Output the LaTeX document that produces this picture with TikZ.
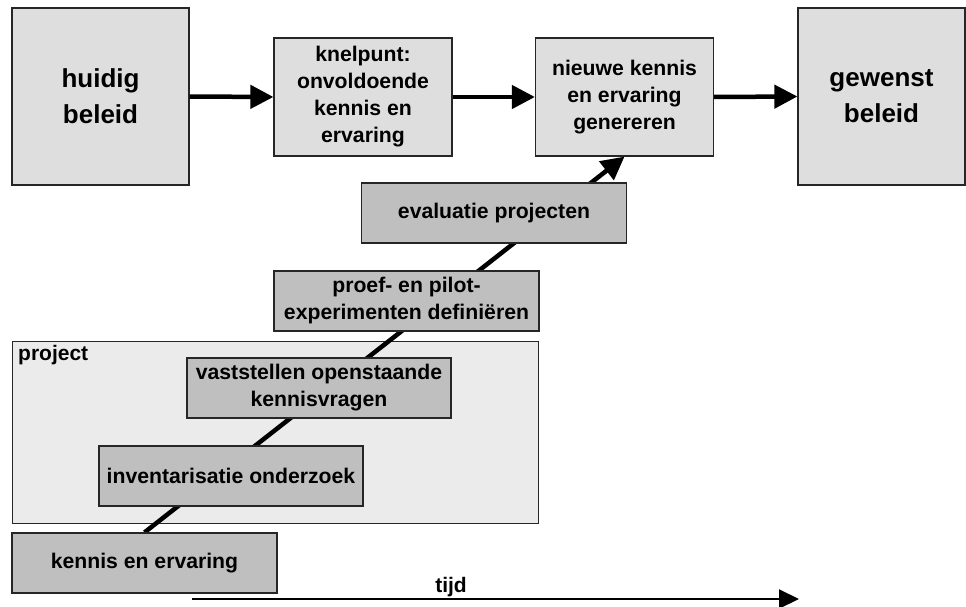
\documentclass[tikz,border=0pt]{standalone}
\usepackage{fontspec}
\setmainfont{Liberation Sans}
\usetikzlibrary{arrows.meta,backgrounds}

\begin{document}
\begin{tikzpicture}[x=1pt, y=-1pt,
    box/.style={draw=black!85, line width=1.2pt, inner sep=0pt, align=center},
    bigbox/.style={box, fill=black!13, minimum width=177pt, minimum height=177pt,
        font=\fontsize{26}{36}\selectfont\bfseries},
    midbox/.style={box, fill=black!13, minimum width=178pt, minimum height=118pt,
        font=\fontsize{21.2}{27}\selectfont\bfseries},
    stepbox/.style={box, fill=black!25, minimum width=265pt, minimum height=60pt,
        font=\fontsize{21.2}{27}\selectfont\bfseries},
    flow/.style={line width=4.5pt, -{Triangle[length=23pt,width=23pt]}},
    timeline/.style={line width=2pt, -{Triangle[length=20pt,width=19pt]}},
    plain/.style={font=\fontsize{21}{27}\selectfont\bfseries, inner sep=0pt}]
    \useasboundingbox (0,0) rectangle (966,607);

    % beleid
    \node[bigbox] (huidig) at (100.5,96.5) {huidig\\beleid};
    \node[midbox] (knelpunt) at (363,97) {knelpunt:\\onvoldoende\\kennis en\\ervaring};
    \node[midbox] (nieuwe) at (624.5,97) {nieuwe kennis\\en ervaring\\genereren};
    \node[bigbox, minimum width=167pt] (gewenst) at (881.5,96.5) {gewenst\\beleid};
    \draw[flow] (huidig.east) -- (knelpunt.west);
    \draw[flow] (knelpunt.east) -- (nieuwe.west);
    \draw[flow] (nieuwe.east) -- (gewenst.west);

    % stappen
    \node[stepbox] (evaluatie) at (494,213) {evaluatie projecten};
    \node[stepbox] (proef) at (406.5,301) {proef- en pilot-\\experimenten defini\"eren};
    \node[stepbox, minimum width=264pt] (vaststellen) at (319,388) {vaststellen openstaande\\kennisvragen};
    \node[stepbox, minimum width=264pt] (inventarisatie) at (231,476) {inventarisatie onderzoek};
    \node[stepbox] (kennis) at (144.5,563) {kennis en ervaring};

    \begin{scope}[on background layer]
        \node[box, fill=black!8, anchor=north west, minimum width=526pt, minimum height=182pt] (project) at (12,341) {};
        \draw[flow] (kennis.north) -- (nieuwe.south);
    \end{scope}
    \node[plain, anchor=base west] (projectlabel) at (18,360) {project};

    % tijd
    \coordinate (t0) at (192,599);
    \coordinate (t1) at (799,599);
    \draw[timeline] (t0) -- (t1);
    \node[plain, anchor=base] (tijd) at (451,592) {tijd};
\end{tikzpicture}
\end{document}
